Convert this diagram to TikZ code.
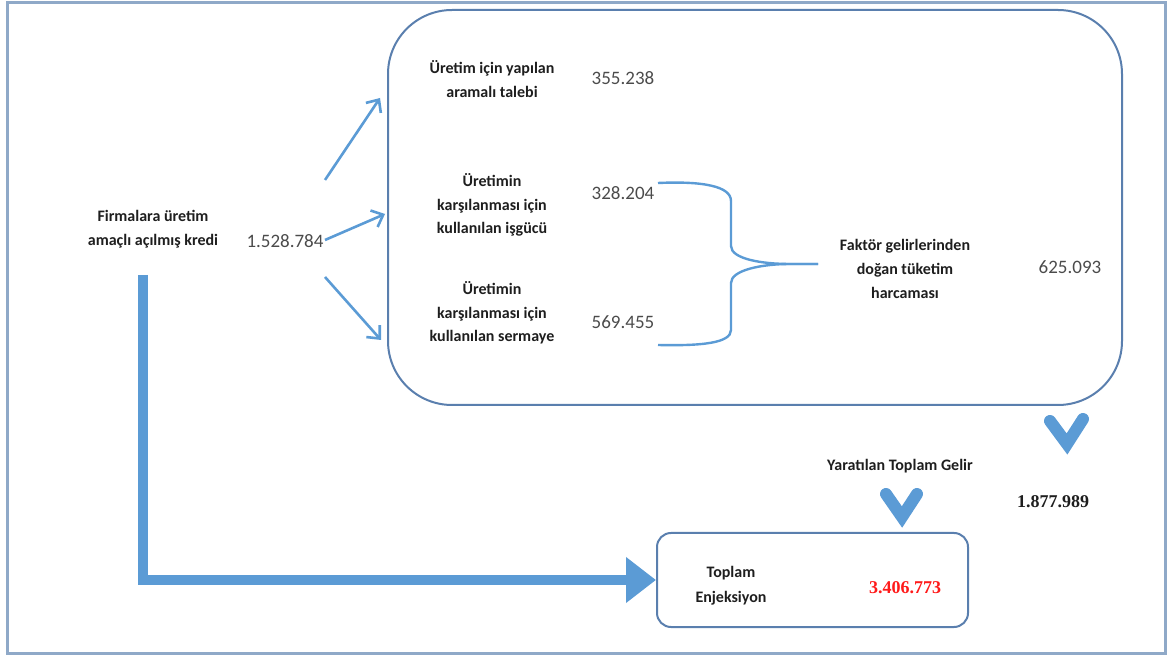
\documentclass[tikz,border=0pt]{standalone}
\usepackage{fontspec}
\setmainfont{Carlito}
\newfontfamily\timesfont{Liberation Serif}
\usetikzlibrary{arrows.meta,positioning,calc}
\definecolor{flow}{HTML}{5B9BD5}
\definecolor{frame}{HTML}{8FA9C8}
\definecolor{boxline}{HTML}{5A7FAE}
\definecolor{ink}{HTML}{1E1E1E}
\definecolor{hot}{HTML}{FF1A1A}

\begin{document}
\begin{tikzpicture}[x=0.5pt,y=-0.5pt,
  lbl/.style={font=\fontsize{8}{11.8}\selectfont\bfseries,text=ink,align=center,inner sep=0pt},
  num/.style={font=\fontsize{9.5}{11}\selectfont,text=ink!80,inner sep=0pt},
  thinarrow/.style={-{Straight Barb[length=5pt,width=9pt]},line width=1.3pt,flow},
  chevron/.style={flow,line width=6pt,line cap=round,line join=miter}]
\useasboundingbox (0,0) rectangle (1168,657);
\draw[frame,line width=1.5pt] (7,3) rectangle (1165,653);
% main cycle box
\node[draw=boxline,line width=1pt,rounded corners=32pt,minimum width=367pt,minimum height=197.5pt] (cyclebox) at (755,207.5) {};
\node[lbl] (kredi) at (153,229) {Firmalara üretim\\amaçlı açılmış kredi};
\node[num] (kredinum) at (285,241) {1.528.784};
\node[lbl] (talep) at (492,79) {Üretim için yapılan\\aramalı talebi};
\node[num] (talepnum) at (623,78) {355.238};
\node[lbl] (isgucu) at (492,205) {Üretimin\\karşılanması için\\kullanılan işgücü};
\node[num] (isgucunum) at (623,193) {328.204};
\node[lbl] (sermaye) at (492,313) {Üretimin\\karşılanması için\\kullanılan sermaye};
\node[num] (sermayenum) at (623,322) {569.455};
\node[lbl] (faktor) at (905,269) {Faktör gelirlerinden\\doğan tüketim\\harcaması};
\node[num] (faktornum) at (1070,267) {625.093};
% arrows into the box
\coordinate (s1) at (325,180); \coordinate (e1) at (380,98);
\coordinate (s2) at (325,240); \coordinate (e2) at (385,214);
\coordinate (s3) at (325,277); \coordinate (e3) at (381,340);
\foreach \i in {1,2,3}{\draw[thinarrow] (s\i)--(e\i);}
% brace
\coordinate (bracetip) at (818,264);
\draw[flow,line width=1.2pt] (658,183) .. controls (702,181) and (731,186) .. (731,201) -- (731,246) .. controls (731,259) and (762,264) .. (790,264) -- (bracetip);
\draw[flow,line width=1.2pt] (bracetip) -- (790,264) .. controls (762,264) and (731,270) .. (731,283) -- (731,330) .. controls (731,343) and (702,346) .. (658,345);
% totals
\draw[chevron] (1050,421) -- (1067,444) -- (1083,419);
\node[lbl] (gelir) at (900,466) {Yaratılan Toplam Gelir};
\draw[chevron] (886,494) -- (902,517) -- (917,494);
\node[font=\timesfont\bfseries\fontsize{9}{10}\selectfont,text=ink,inner sep=0pt] (gelirnum) at (1053,502) {1.877.989};
\node[draw=boxline,line width=1pt,rounded corners=7pt,minimum width=155.5pt,minimum height=47pt] (enj) at (812.5,580) {};
\node[lbl,font=\fontsize{8}{12.5}\selectfont\bfseries] (enjtext) at (731,586) {Toplam\\Enjeksiyon};
\node[font=\timesfont\bfseries\fontsize{9}{10}\selectfont,text=hot,inner sep=0pt] (enjnum) at (905,588) {3.406.773};
\coordinate (ldown) at (143,275);
\draw[flow,line width=5pt,-{Triangle[length=15pt,width=22pt]}] (ldown) |- (enj.west);
\end{tikzpicture}
\end{document}
